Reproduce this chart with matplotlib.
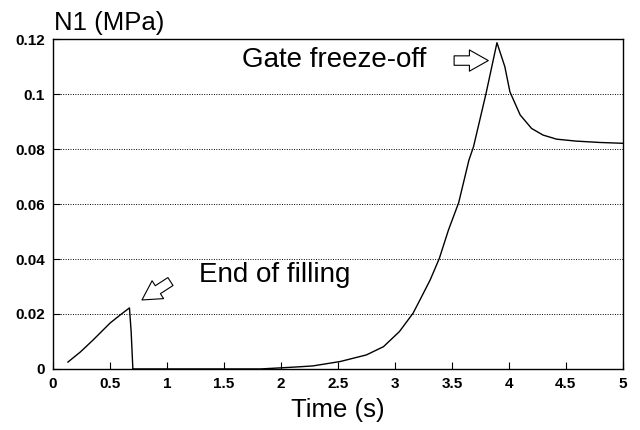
import matplotlib
matplotlib.use('Agg')
import matplotlib.pyplot as plt

# Filling stage: first normal stress difference up to end of filling
t_fill = [0.13, 0.24, 0.35, 0.50, 0.60, 0.67, 0.685, 0.70]
n1_fill = [0.0025, 0.0062, 0.0105, 0.0167, 0.0200, 0.0222, 0.0135, 0.0]

# Packing / cooling stage up to gate freeze-off and relaxation
t_pack = [0.70, 1.82, 2.00, 2.17, 2.28, 2.52, 2.75, 2.90, 3.04, 3.16, 3.22,
          3.31, 3.39, 3.47, 3.56, 3.65, 3.69, 3.80, 3.896,
          3.965, 4.01, 4.10, 4.20, 4.30, 4.42, 4.59, 4.80, 5.00]
n1_pack = [0.0, 0.0, 0.0004, 0.0008, 0.0011, 0.0027, 0.0051, 0.0081, 0.0136, 0.0203, 0.0251,
           0.0324, 0.0402, 0.0505, 0.0605, 0.0760, 0.0808, 0.1002, 0.1187,
           0.1100, 0.1008, 0.0924, 0.0875, 0.0851, 0.0836, 0.0829, 0.0824, 0.0821]

x_ticks = [0, 0.5, 1, 1.5, 2, 2.5, 3, 3.5, 4, 4.5, 5]
x_labels = ['0', '0.5', '1', '1.5', '2', '2.5', '3', '3.5', '4', '4.5', '5']
y_ticks = [0, 0.02, 0.04, 0.06, 0.08, 0.1, 0.12]
y_labels = ['0', '0.02', '0.04', '0.06', '0.08', '0.1', '0.12']

plt.rcParams['font.family'] = ['Liberation Sans', 'DejaVu Sans']

fig = plt.figure(figsize=(6.4, 4.3), dpi=100)
ax = fig.add_axes([0.083, 0.142, 0.89, 0.767])

ax.plot(t_fill, n1_fill, color='black', lw=1.0)
ax.plot(t_pack, n1_pack, color='black', lw=1.0)

ax.set_xlim(0, 5)
ax.set_ylim(0, 0.12)
ax.set_xticks(x_ticks)
ax.set_xticklabels(x_labels, fontsize=11, fontweight='bold')
ax.set_yticks(y_ticks)
ax.set_yticklabels(y_labels, fontsize=11, fontweight='bold')
ax.tick_params(direction='in', length=5, width=0.8, pad=6)

# dotted horizontal grid only at the inner levels
for yv in y_ticks[1:-1]:
    ax.axhline(yv, color='black', lw=0.7, ls=(0, (1, 1.5)), zorder=0)

for s in ax.spines.values():
    s.set_linewidth(1.0)

ax.set_xlabel('Time (s)', fontsize=18.5, labelpad=5)
ax.text(0.002, 1.012, 'N1 (MPa)', transform=ax.transAxes, fontsize=18.5,
        ha='left', va='bottom')

ax.text(1.66, 0.1124, 'Gate freeze-off', fontsize=20, ha='left', va='center')
ax.text(1.28, 0.0342, 'End of filling', fontsize=20, ha='left', va='center')

# hollow block arrows pointing at the two events
hollow = dict(arrowstyle='simple,head_length=0.8,head_width=0.9,tail_width=0.4',
              fc='white', ec='black', lw=0.8, mutation_scale=17,
              shrinkA=0, shrinkB=0)
ax.annotate('', xy=(3.82, 0.1122), xytext=(3.52, 0.1122), arrowprops=hollow)
ax.annotate('', xy=(0.78, 0.0251), xytext=(1.03, 0.0318), arrowprops=hollow)

plt.savefig('out.png', dpi=100)
